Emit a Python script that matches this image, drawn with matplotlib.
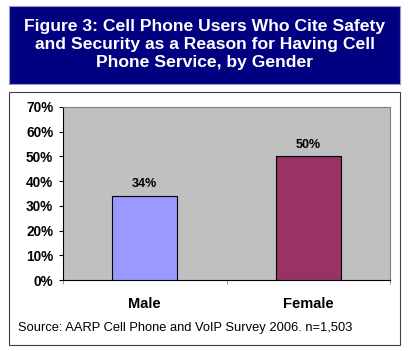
import matplotlib.pyplot as plt
from matplotlib.patches import Rectangle
import numpy as np

categories = ["Male", "Female"]
values = [34, 50]
bar_colors = ["#9999FF", "#993366"]
y_ticks = [0, 10, 20, 30, 40, 50, 60, 70]

title = "Figure 3: Cell Phone Users Who Cite Safety\nand Security as a Reason for Having Cell\nPhone Service, by Gender"
source = "Source: AARP Cell Phone and VoIP Survey 2006. n=1,503"

W, H = 408, 351
plt.rcParams['font.family'] = ['Liberation Sans', 'DejaVu Sans']

fig = plt.figure(figsize=(W / 100, H / 100), dpi=100)

# Title box
fig.patches.append(Rectangle((9 / W, 1 - 84 / H), 391 / W, 78 / H, transform=fig.transFigure,
                             facecolor="#000080", edgecolor="#9999CC", linewidth=0.8, zorder=0))
fig.text(205 / W, 1 - 44 / H, title, color="white", fontsize=12.6, fontweight="bold",
         ha="center", va="center", linespacing=1.25)

# Chart box
fig.patches.append(Rectangle((9 / W, 1 - 345 / H), 391 / W, 253 / H, transform=fig.transFigure,
                             facecolor="white", edgecolor="#404040", linewidth=0.8, zorder=0))

ax = fig.add_axes([63 / W, 1 - 280 / H, 327 / W, 173 / H])
ax.set_zorder(2)
ax.set_facecolor("#C0C0C0")
x = np.arange(len(categories))
bars = ax.bar(x, values, width=0.4, color=bar_colors, edgecolor="black", linewidth=0.8, zorder=3)

for rect, v in zip(bars, values):
    ax.annotate(f"{v}%", xy=(rect.get_x() + rect.get_width() / 2, v), xytext=(0, 4),
                textcoords="offset points", ha="center", va="bottom",
                fontsize=9, fontweight="bold")

ax.set_xlim(-0.5, 1.5)
ax.set_ylim(0, 70)
ax.set_yticks(y_ticks)
ax.set_yticklabels([f"{t}%" for t in y_ticks], fontsize=9.8, fontweight="bold")
ax.set_xticks(x)
ax.set_xticklabels(categories, fontsize=10.5, fontweight="bold")
ax.tick_params(axis="x", length=0, pad=12)
ax.set_xticks([-0.5, 0.5, 1.5], minor=True)
ax.tick_params(axis="x", which="minor", length=3, color="#808080")
ax.tick_params(axis="y", length=3, direction="out", pad=4)

for s in ["top", "right"]:
    ax.spines[s].set_color("#808080")
    ax.spines[s].set_linewidth(0.8)
ax.spines["left"].set_color("black")
ax.spines["bottom"].set_color("black")
ax.spines["left"].set_linewidth(0.8)
ax.spines["bottom"].set_linewidth(0.8)

fig.text(18 / W, 1 - 328 / H, source, fontsize=9.3, ha="left", va="center")

fig.savefig("out.png", dpi=100)
